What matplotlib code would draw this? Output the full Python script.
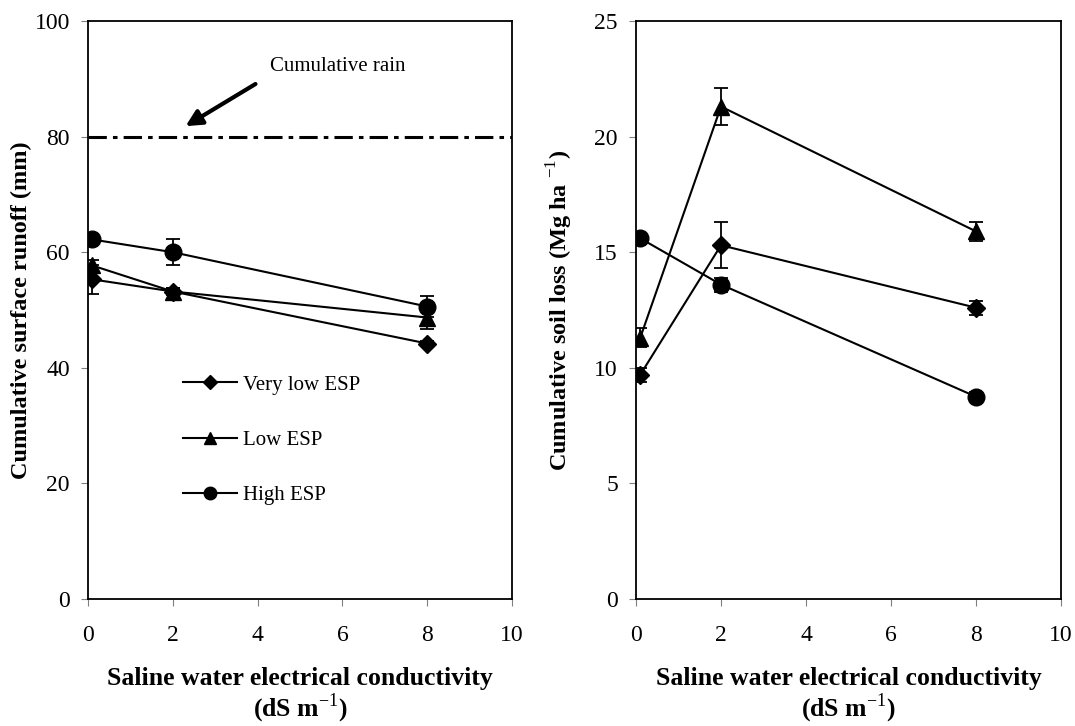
import matplotlib
matplotlib.use("Agg")
import matplotlib.pyplot as plt

plt.rcParams['font.family'] = ['Liberation Serif', 'DejaVu Serif']
plt.rcParams['mathtext.fontset'] = 'custom'
plt.rcParams['mathtext.rm'] = 'Liberation Serif'
plt.rcParams['mathtext.bf'] = 'Liberation Serif:bold'

ec = [0.1, 2, 8]
series = ['Very low ESP', 'Low ESP', 'High ESP']
markers = ['D', '^', 'o']
msizes = [9, 11, 12]

runoff = [[55.3, 53.2, 44.2],
          [57.7, 53.2, 48.7],
          [62.2, 60.0, 50.6]]
runoff_err = [[2.5, 0.6, 0.5],
              [1.0, 0.6, 2.0],
              [0.6, 2.2, 1.8]]

soil = [[9.7, 15.3, 12.6],
        [11.3, 21.3, 15.9],
        [15.6, 13.6, 8.75]]
soil_err = [[0.3, 1.0, 0.3],
            [0.4, 0.8, 0.4],
            [0.2, 0.3, 0.2]]

rain = 80

fig = plt.figure(figsize=(10.75, 7.26), dpi=100)
ax1 = fig.add_axes([88/1075, 127/726, 424/1075, 578/726])
ax2 = fig.add_axes([636/1075, 127/726, 425/1075, 578/726])

for i in range(3):
    ax1.errorbar(ec, runoff[i], yerr=runoff_err[i], color='black', marker=markers[i],
                 markersize=msizes[i], linewidth=1.5, capsize=5, elinewidth=1.3,
                 capthick=1.3, label=series[i])
    ax2.errorbar(ec, soil[i], yerr=soil_err[i], color='black', marker=markers[i],
                 markersize=msizes[i], linewidth=1.5, capsize=5, elinewidth=1.3,
                 capthick=1.3, label=series[i])

ax1.axhline(rain, color='black', linestyle=(0, (6, 2, 1.5, 2)), linewidth=2.2)
ax1.text(4.3, 92.2, 'Cumulative rain', fontsize=15, va='center', ha='left')
ax1.annotate('', xy=(2.3, 81.8), xytext=(3.95, 89.1),
             arrowprops=dict(arrowstyle='-|>', color='black', lw=3,
                             mutation_scale=24, shrinkA=0, shrinkB=0))

handles, labels = ax1.get_legend_handles_labels()
handles = [h[0] for h in handles]
leg = ax1.legend(handles, labels, loc='upper left', bbox_to_anchor=(0.18, 0.42),
                 frameon=False, fontsize=15, handlelength=2.6, labelspacing=1.72,
                 markerscale=0.75, handletextpad=0.3)

ax1.set_xlim(0, 10)
ax1.set_ylim(0, 100)
ax1.set_yticks(range(0, 101, 20))
ax2.set_xlim(0, 10)
ax2.set_ylim(0, 25)
ax2.set_yticks(range(0, 26, 5))

for ax in (ax1, ax2):
    ax.set_xticks(range(0, 11, 2))
    ax.tick_params(axis='both', labelsize=17, direction='out', length=5,
                   color='gray', width=0.8)
    ax.tick_params(axis='x', pad=14)
    ax.tick_params(axis='y', pad=8)
    for s in ax.spines.values():
        s.set_linewidth(1.3)
    ax.set_xlabel('Saline water electrical conductivity\n(dS m$^{-1}$)',
                  fontsize=18.5, fontweight='bold', labelpad=15, linespacing=1.05)

ax1.set_ylabel('Cumulative surface runoff (mm)', fontsize=17.5, fontweight='bold', labelpad=2)
ax2.set_ylabel('Cumulative soil loss (Mg ha $^{-1}$)', fontsize=17.5, fontweight='bold', labelpad=14)

fig.savefig('out.png', dpi=100)
